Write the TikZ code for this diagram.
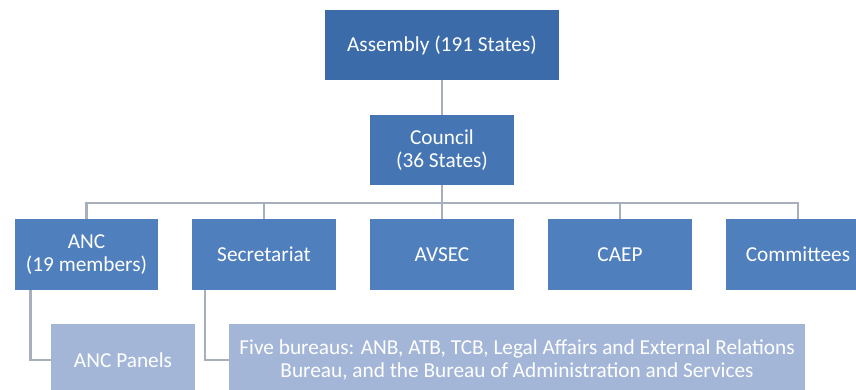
\documentclass[tikz,border=0pt]{standalone}
\usepackage{fontspec}
\setmainfont{Carlito}
\definecolor{asmblue}{HTML}{3B6CA9}
\definecolor{cnlblue}{HTML}{4575B3}
\definecolor{rowblue}{HTML}{4F80BD}
\definecolor{lightblue}{HTML}{A3B6D8}
\definecolor{linegray}{HTML}{A7AEBC}
\begin{document}
\begin{tikzpicture}[x=1pt,y=-1pt,
  box/.style={fill=#1,text=white,inner sep=0pt,align=center,font=\fontsize{21.3}{23}\selectfont},
  conn/.style={draw=linegray,line width=2.6pt}]
\clip (0,0) rectangle (856,390);
\fill[white] (0,0) rectangle (856,390);
% top
\node[box=asmblue,minimum width=234pt,minimum height=70pt] (asm) at (442,45) {Assembly (191 States)};
\node[box=cnlblue,minimum width=144pt,minimum height=70pt] (cnl) at (442,150) {Council\\(36 States)};
% row
\node[box=rowblue,minimum width=143pt,minimum height=71pt] (anc) at (86.5,254.5) {ANC\\(19 members)};
\node[box=rowblue,minimum width=144pt,minimum height=71pt] (sec) at (264,254.5) {Secretariat};
\node[box=rowblue,minimum width=144pt,minimum height=71pt] (avs) at (442,254.5) {AVSEC};
\node[box=rowblue,minimum width=144pt,minimum height=71pt] (cae) at (620,254.5) {CAEP};
\node[box=rowblue,minimum width=144pt,minimum height=71pt] (com) at (798,254.5) {Committees};
% bottom
\node[box=lightblue,minimum width=144pt,minimum height=72pt] (pan) at (123,360) {ANC Panels};
\node[box=lightblue,minimum width=576pt,minimum height=72pt] (bur) at (517,360) {Five bureaus: ANB, ATB, TCB, Legal Affairs and External Relations\\Bureau, and the Bureau of Administration and Services};
% connectors
\coordinate (bus) at (442,203);
\draw[conn] (asm.south) -- (cnl.north);
\draw[conn] (cnl.south) -- (bus);
\draw[conn] (anc.north) -- (anc.north |- bus) -- (com.north |- bus) -- (com.north);
\draw[conn] (sec.north) -- (sec.north |- bus);
\draw[conn] (avs.north) -- (avs.north |- bus);
\draw[conn] (cae.north) -- (cae.north |- bus);
\draw[conn] ([xshift=-56pt]anc.south) |- (pan.west);
\draw[conn] ([xshift=-59pt]sec.south) |- (bur.west);
\end{tikzpicture}
\end{document}
